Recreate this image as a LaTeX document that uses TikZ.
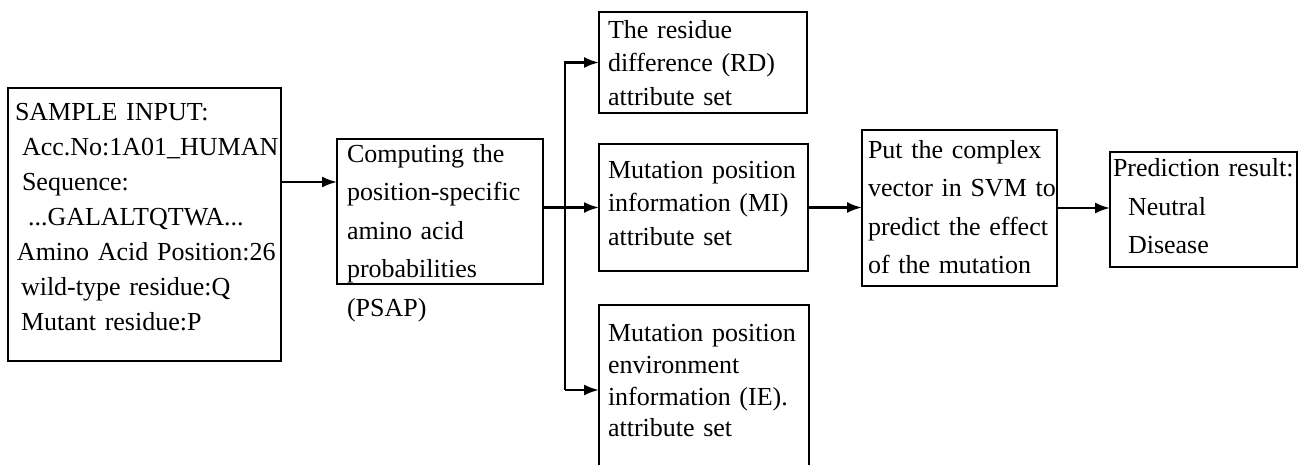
\documentclass[tikz,border=0pt]{standalone}
\usepackage{fontspec}
\setmainfont{Liberation Serif}
\usetikzlibrary{arrows.meta}

\begin{document}
\begin{tikzpicture}[x=0.5pt,y=-0.5pt,
  box/.style={draw,line width=1.2pt,outer sep=0pt,inner ysep=0pt,anchor=north west,align=left,
    execute at begin node={\hyphenpenalty=10000\exhyphenpenalty=10000}},
  arr/.style={line width=1.1pt,-{Latex[length=7.5pt,width=5.5pt]}}]
  \useasboundingbox (0,0) rectangle (1299,465);
  \clip (0,0) rectangle (1299,465);
  \node[box,inner xsep=3.5pt,text width=129.5pt,text height=16pt,text depth=120.5pt,
    font=\fontsize{13}{17.5}\selectfont] (input) at (8,88)
    {SAMPLE~INPUT:\\
     \hspace*{3.5pt}Acc.No:1A01\_HUMAN\\
     \hspace*{3.5pt}Sequence:\\
     \hspace*{6.5pt}...GALALTQTWA...\\
     \hspace*{1pt}Amino~Acid~Position:26\\
     \hspace*{3pt}wild-type~residue:Q\\
     \hspace*{3pt}Mutant~residue:P};
  \node[box,inner xsep=5pt,text width=93pt,text height=11.5pt,text depth=61pt,
    font=\fontsize{13}{19.25}\selectfont] (psap) at (337,139)
    {Computing~the\\ position-specific\\ amino~acid\\ probabilities\\ (PSAP)};
  \node[box,inner xsep=4.5pt,text width=95pt,text height=13.25pt,text depth=37.25pt,
    font=\fontsize{13}{16.7}\selectfont] (rd) at (599,12)
    {The~residue\\ difference~(RD)\\ attribute~set};
  \node[box,inner xsep=4.5pt,text width=95.5pt,text height=17.25pt,text depth=46.25pt,
    font=\fontsize{13}{16.7}\selectfont] (mi) at (599,144)
    {Mutation~position\\ information~(MI)\\ attribute~set};
  \node[box,inner xsep=4.5pt,text width=96pt,text height=18.4pt,text depth=66.5pt,
    font=\fontsize{13}{15.8}\selectfont] (ie) at (599,305)
    {Mutation~position\\ environment\\ information~(IE).\\ attribute~set};
  \node[box,inner xsep=3pt,text width=91.5pt,text height=14.25pt,text depth=63.75pt,
    font=\fontsize{13}{19.2}\selectfont] (svm) at (862,130)
    {Put~the~complex\\ vector~in~SVM~to\\ predict~the~effect\\ of~the~mutation};
  \node[box,inner xsep=1.5pt,text width=90.5pt,text height=12.4pt,text depth=45.1pt,
    font=\fontsize{13}{19.2}\selectfont] (pred) at (1110,152)
    {Prediction~result:\\ \hspace*{7.5pt}Neutral\\ \hspace*{7.5pt}Disease};

  \coordinate (inout) at ([yshift=21.25pt]input.east);
  \coordinate (bus) at ([xshift=11pt]psap.east);
  \coordinate (iein) at ([yshift=-42.5pt]ie.north west);
  \draw[arr] (inout) -- (inout -| psap.west);
  \draw[arr] (psap.east |- mi.west) -- (mi.west);
  \draw[arr] (iein -| bus) |- (rd.west);
  \draw[arr] (iein -| bus) -- (iein);
  \draw[arr] (mi.east) -- (mi.east -| svm.west);
  \draw[arr] (svm.east) -- (svm.east -| pred.west);
\end{tikzpicture}
\end{document}
